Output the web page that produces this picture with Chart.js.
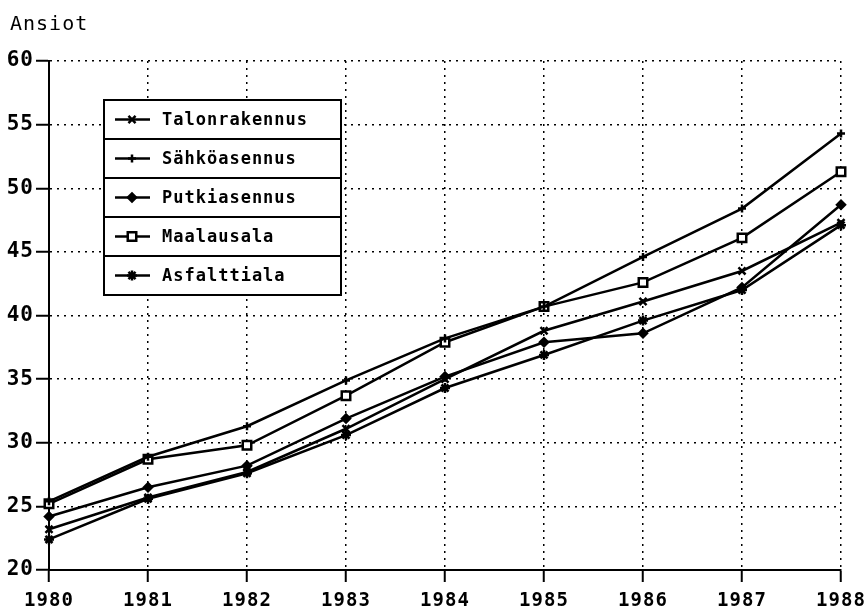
<!DOCTYPE html>
<html>
<head>
<meta charset="utf-8">
<script src="https://cdn.jsdelivr.net/npm/chart.js@4"></script>
<style>
  html, body { margin: 0; padding: 0; background: #fff; }
  #wrap { width: 868px; height: 614px; }
</style>
</head>
<body>
<div id="wrap"><canvas id="wageChart" width="868" height="614"></canvas></div>
<script>
// Data
const years = ['1980', '1981', '1982', '1983', '1984', '1985', '1986', '1987', '1988'];
const talonrakennus = [23.2, 25.7, 27.7, 31.1, 35.0, 38.8, 41.1, 43.5, 47.3];
const sahkoasennus = [25.4, 28.9, 31.3, 34.9, 38.2, 40.7, 44.6, 48.4, 54.3];
const putkiasennus = [24.2, 26.5, 28.2, 31.9, 35.2, 37.9, 38.6, 42.2, 48.7];
const maalausala = [25.2, 28.7, 29.8, 33.7, 37.9, 40.7, 42.6, 46.1, 51.3];
const asfalttiala = [22.4, 25.6, 27.6, 30.6, 34.3, 36.9, 39.6, 42.0, 47.1];
const seriesNames = ['Talonrakennus', 'Sähköasennus', 'Putkiasennus', 'Maalausala', 'Asfalttiala'];
const yTicks = [20, 25, 30, 35, 40, 45, 50, 55, 60];

const mono = "'DejaVu Sans Mono', monospace";

function line(label, data, style, radius, fill) {
    return {
        label: label,
        data: data,
        borderColor: '#000',
        borderWidth: 2.5,
        pointStyle: style,
        pointRadius: radius,
        pointHoverRadius: radius,
        pointBorderWidth: 2.5,
        pointBorderColor: '#000',
        pointBackgroundColor: fill,
        tension: 0
    };
}

// Spaced letters like the old plotter font
const spacing = {
    id: 'spacing',
    beforeDraw(chart) {
        chart.ctx.letterSpacing = '1px';
    }
};

// y labels would be clipped to the scale box; let them use the left margin
const wideLabels = {
    id: 'wideLabels',
    afterLayout(chart) {
        chart.scales.y.left = 0;
    }
};

// Boxed legend, one bordered row per series
const boxLegend = {
    id: 'boxLegend',
    afterDraw(chart) {
        const ctx = chart.ctx;
        const left = 104, top = 100, width = 237, rowH = 39;
        const sets = chart.data.datasets;
        ctx.save();
        ctx.letterSpacing = '1px';
        ctx.fillStyle = '#fff';
        ctx.fillRect(left, top, width, rowH * sets.length);
        ctx.strokeStyle = '#000';
        ctx.lineWidth = 2;
        ctx.strokeRect(left, top, width, rowH * sets.length);
        sets.forEach((ds, i) => {
            const y = top + i * rowH;
            if (i > 0) {
                ctx.beginPath();
                ctx.moveTo(left, y);
                ctx.lineTo(left + width, y);
                ctx.stroke();
            }
            const cy = y + rowH / 2;
            ctx.lineWidth = 2.5;
            ctx.beginPath();
            ctx.moveTo(115, cy);
            ctx.lineTo(150, cy);
            ctx.stroke();
            ctx.fillStyle = ds.pointBackgroundColor;
            ctx.strokeStyle = '#000';
            Chart.helpers.drawPoint(ctx, {
                pointStyle: ds.pointStyle,
                radius: ds.pointRadius,
                borderWidth: 2.5,
                rotation: 0
            }, 132, cy);
            ctx.lineWidth = 2;
            ctx.fillStyle = '#000';
            ctx.font = 'bold 17px ' + mono;
            ctx.textAlign = 'left';
            ctx.textBaseline = 'middle';
            ctx.fillText(ds.label, 162, cy + 1);
        });
        ctx.restore();
    }
};

new Chart(document.getElementById('wageChart'), {
    type: 'line',
    data: {
        labels: years,
        datasets: [
            line(seriesNames[0], talonrakennus, 'crossRot', 5, '#000'),
            line(seriesNames[1], sahkoasennus, 'cross', 4, '#000'),
            line(seriesNames[2], putkiasennus, 'rectRot', 4, '#000'),
            line(seriesNames[3], maalausala, 'rect', 6, '#fff'),
            line(seriesNames[4], asfalttiala, 'star', 5, '#000')
        ]
    },
    options: {
        responsive: false,
        animation: false,
        devicePixelRatio: 1,
        layout: {
            padding: { left: 10, right: 27, top: 0, bottom: 0 }
        },
        plugins: {
            legend: { display: false },
            tooltip: { enabled: false },
            title: {
                display: true,
                text: 'Ansiot',
                align: 'start',
                color: '#000',
                font: { family: mono, size: 20, weight: 'normal' },
                padding: { top: 13, bottom: 24 }
            }
        },
        scales: {
            x: {
                type: 'category',
                offset: false,
                afterFit(scale) {
                    scale.height = 44;
                    scale.paddingLeft = 0;
                    scale.paddingRight = 0;
                },
                border: { display: true, color: '#000', width: 2, dash: [2, 5] },
                grid: {
                    color: '#000',
                    lineWidth: 1.5,
                    tickLength: 12,
                    tickColor: '#000',
                    tickWidth: 2,
                    tickBorderDash: []
                },
                ticks: {
                    color: '#000',
                    maxRotation: 0,
                    autoSkip: false,
                    padding: 8,
                    font: { family: mono, size: 19, weight: 'bold' }
                }
            },
            y: {
                min: 20,
                max: 60,
                afterFit(scale) {
                    scale.width = 39;
                    scale.paddingTop = 0;
                    scale.paddingBottom = 0;
                },
                afterBuildTicks(scale) {
                    scale.ticks = yTicks.map(v => ({ value: v }));
                },
                border: { display: true, color: '#000', width: 2, dash: [2, 5] },
                grid: {
                    color: '#000',
                    lineWidth: 1.5,
                    tickLength: 13,
                    tickColor: '#000',
                    tickWidth: 2,
                    tickBorderDash: []
                },
                ticks: {
                    color: '#000',
                    padding: 2,
                    font: { family: mono, size: 21, weight: 'bold' }
                }
            }
        }
    },
    plugins: [spacing, wideLabels, boxLegend]
});
</script>
</body>
</html>
